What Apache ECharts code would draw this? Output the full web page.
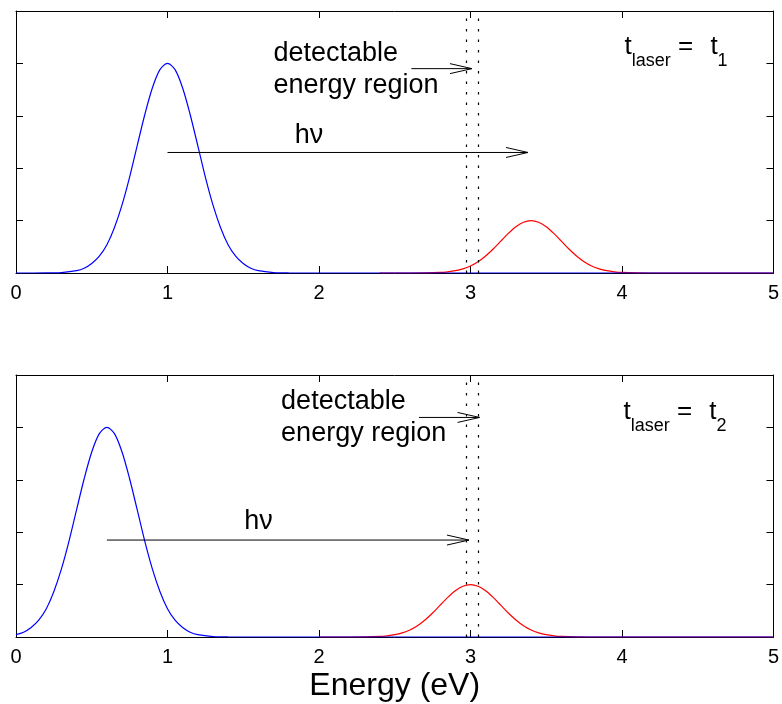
<!DOCTYPE html>
<html>
<head>
<meta charset="utf-8">
<script src="https://cdn.jsdelivr.net/npm/echarts@6/dist/echarts.min.js"></script>
<style>
  html, body { margin: 0; padding: 0; background: #fff; }
  #chart { width: 782px; height: 704px; }
</style>
</head>
<body>
<div id="chart"></div>
<script>
// Energy axis tick labels (eV)
const energyTickLabels = ['0', '1', '2', '3', '4', '5'];

// Electron distribution (blue) and photoemitted signal (red), [energy eV, intensity a.u.]
// Panel 1: t_laser = t1
const electronsT1 = [
  [0, 0], [0.2, 0.001], [0.3, 0.009], [0.4, 0.044], [0.45, 0.09], [0.5, 0.18],
  [0.55, 0.32], [0.6, 0.54], [0.65, 0.87], [0.7, 1.30], [0.75, 1.83], [0.8, 2.43],
  [0.85, 3.02], [0.9, 3.53], [0.95, 3.88], [1.0, 4.00], [1.05, 3.88], [1.1, 3.53],
  [1.15, 3.02], [1.2, 2.43], [1.25, 1.83], [1.3, 1.30], [1.35, 0.87], [1.4, 0.54],
  [1.45, 0.32], [1.5, 0.18], [1.55, 0.09], [1.6, 0.044], [1.7, 0.009], [1.8, 0.001],
  [2.0, 0], [3.0, 0], [4.0, 0], [5.0, 0]
];
const signalT1 = [
  [2.4, 0], [2.6, 0.0003], [2.7, 0.002], [2.8, 0.011], [2.85, 0.023], [2.9, 0.044],
  [2.95, 0.080], [3.0, 0.135], [3.05, 0.216], [3.1, 0.325], [3.15, 0.458], [3.2, 0.607],
  [3.25, 0.755], [3.3, 0.883], [3.35, 0.969], [3.4, 1.0], [3.45, 0.969], [3.5, 0.883],
  [3.55, 0.755], [3.6, 0.607], [3.65, 0.458], [3.7, 0.325], [3.75, 0.216], [3.8, 0.135],
  [3.85, 0.080], [3.9, 0.044], [3.95, 0.023], [4.0, 0.011], [4.1, 0.002], [4.2, 0.0003],
  [4.4, 0], [5.0, 0]
];
// Panel 2: t_laser = t2
const electronsT2 = [
  [0, 0.044], [0.05, 0.09], [0.1, 0.18], [0.15, 0.32], [0.2, 0.54], [0.25, 0.87],
  [0.3, 1.30], [0.35, 1.83], [0.4, 2.43], [0.45, 3.02], [0.5, 3.53], [0.55, 3.88],
  [0.6, 4.00], [0.65, 3.88], [0.7, 3.53], [0.75, 3.02], [0.8, 2.43], [0.85, 1.83],
  [0.9, 1.30], [0.95, 0.87], [1.0, 0.54], [1.05, 0.32], [1.1, 0.18], [1.15, 0.09],
  [1.2, 0.044], [1.3, 0.009], [1.4, 0.001], [1.6, 0], [2.0, 0], [3.0, 0], [4.0, 0], [5.0, 0]
];
const signalT2 = [
  [2.0, 0], [2.2, 0.0003], [2.3, 0.002], [2.4, 0.011], [2.45, 0.023], [2.5, 0.044],
  [2.55, 0.080], [2.6, 0.135], [2.65, 0.216], [2.7, 0.325], [2.75, 0.458], [2.8, 0.607],
  [2.85, 0.755], [2.9, 0.883], [2.95, 0.969], [3.0, 1.0], [3.05, 0.969], [3.1, 0.883],
  [3.15, 0.755], [3.2, 0.607], [3.25, 0.458], [3.3, 0.325], [3.35, 0.216], [3.4, 0.135],
  [3.45, 0.080], [3.5, 0.044], [3.55, 0.023], [3.6, 0.011], [3.7, 0.002], [3.8, 0.0003],
  [4.0, 0], [5.0, 0]
];

// Detection window edges (eV)
const detectWindow = [2.97, 3.05];

// Arrows [x0, y0, x1, y1] in data units
const arrowsT1 = [[1.0, 2.30, 3.38, 2.30], [2.61, 3.90, 3.01, 3.90]];
const arrowsT2 = [[0.6, 1.85, 2.99, 1.85], [2.66, 4.19, 3.06, 4.19]];

// Text annotations [x, y, kind]
const labelsT1 = [[1.70, 3.89, 'region'], [1.84, 2.63, 'hv'], [4.017, 4.32, 'time']];
const labelsT2 = [[1.75, 4.18, 'region'], [1.507, 2.21, 'hv'], [4.01, 4.30, 'time']];
const laserTimes = ['1', '2'];

const FONT = '"Liberation Sans", Arial, Helvetica, sans-serif';

function xAxes(gridIndex, showLabels) {
  const base = {
    type: 'value', gridIndex, min: 0, max: 5, interval: 1,
    axisLine: { show: true, onZero: false, lineStyle: { color: '#000', width: 1 } },
    axisTick: { show: true, inside: true, length: 7, lineStyle: { color: '#000', width: 1 } },
    splitLine: { show: false }
  };
  return [
    Object.assign({}, base, {
      position: 'bottom',
      axisLabel: {
        show: showLabels, color: '#000', fontSize: 20, fontFamily: FONT, margin: 10,
        formatter: v => energyTickLabels[Math.round(v)]
      },
      name: gridIndex === 1 ? 'Energy (eV)' : '',
      nameLocation: 'middle', nameGap: 33,
      nameTextStyle: { color: '#000', fontSize: 32, fontFamily: FONT }
    }),
    Object.assign({}, base, { position: 'top', axisLabel: { show: false } })
  ];
}
function yAxes(gridIndex) {
  const base = {
    type: 'value', gridIndex, min: 0, max: 5, interval: 1,
    axisLine: { show: true, onZero: false, lineStyle: { color: '#000', width: 1 } },
    axisTick: { show: true, inside: true, length: 7, lineStyle: { color: '#000', width: 1 } },
    axisLabel: { show: false },
    splitLine: { show: false }
  };
  return [
    Object.assign({}, base, { position: 'left' }),
    Object.assign({}, base, { position: 'right' })
  ];
}

function curve(data, color, xi, yi, z) {
  return {
    type: 'line', data, xAxisIndex: xi, yAxisIndex: yi,
    showSymbol: false, smooth: 0.3, z,
    lineStyle: { color, width: 1.2 }, silent: true, animation: false
  };
}

function windowLines(xi, yi) {
  return {
    type: 'line', data: [], xAxisIndex: xi, yAxisIndex: yi, silent: true, animation: false,
    markLine: {
      silent: true, symbol: ['none', 'none'], animation: false,
      label: { show: false },
      lineStyle: { color: '#000', width: 1.2, type: [2.5, 8] },
      data: detectWindow.map(v => ({ xAxis: v }))
    }
  };
}

function arrowSeries(data, xi, yi) {
  return {
    type: 'custom', data, xAxisIndex: xi, yAxisIndex: yi, silent: true, animation: false, z: 5,
    clip: false,
    renderItem: (params, api) => {
      const p0 = api.coord([api.value(0), api.value(1)]);
      const p1 = api.coord([api.value(2), api.value(3)]);
      const dir = Math.atan2(p1[1] - p0[1], p1[0] - p0[0]);
      const L = 22, W = 5;
      const bx = p1[0] - L * Math.cos(dir), by = p1[1] - L * Math.sin(dir);
      const nx = -Math.sin(dir) * W, ny = Math.cos(dir) * W;
      return {
        type: 'group',
        children: [
          { type: 'line', shape: { x1: p0[0], y1: p0[1], x2: p1[0], y2: p1[1] },
            style: { stroke: '#000', lineWidth: 1 } },
          { type: 'polyline', shape: { points: [[bx + nx, by + ny], [p1[0], p1[1]], [bx - nx, by - ny]] },
            style: { stroke: '#000', fill: null, lineWidth: 1 } }
        ]
      };
    }
  };
}

function labelSeries(data, panel, xi, yi) {
  return {
    type: 'custom', data: data.map(d => [d[0], d[1]]), xAxisIndex: xi, yAxisIndex: yi,
    silent: true, animation: false, z: 6, clip: false,
    renderItem: (params, api) => {
      const p = api.coord([api.value(0), api.value(1)]);
      const kind = data[params.dataIndex][2];
      let style;
      if (kind === 'region') {
        style = { text: 'detectable\nenergy region', font: '27px ' + FONT, lineHeight: 32 };
      } else if (kind === 'hv') {
        style = { text: 'h\u03bd', font: '27px ' + FONT };
      } else {
        style = {
          text: '{m|t}{s|laser}{m| = }{m2|t}{s|' + laserTimes[panel] + '}',
          rich: {
            m: { fontSize: 26, fontFamily: FONT, lineHeight: 46, fill: '#000' },
            m2: { fontSize: 26, fontFamily: FONT, lineHeight: 46, padding: [0, 0, 0, 10], fill: '#000' },
            s: { fontSize: 18, fontFamily: FONT, lineHeight: 18, verticalAlign: 'bottom', fill: '#000' }
          }
        };
      }
      Object.assign(style, {
        x: p[0], y: p[1], fill: '#000',
        align: 'left', verticalAlign: 'middle',
        textAlign: 'left', textVerticalAlign: 'middle'
      });
      return { type: 'text', style };
    }
  };
}

const chart = echarts.init(document.getElementById('chart'), null, { renderer: 'canvas' });
chart.setOption({
  animation: false,
  backgroundColor: '#fff',
  grid: [
    { left: 16, top: 11, width: 760, height: 262 },
    { left: 16, top: 375, width: 760, height: 262 }
  ],
  xAxis: [...xAxes(0, true), ...xAxes(1, true)],
  yAxis: [...yAxes(0), ...yAxes(1)],
  series: [
    windowLines(0, 0),
    curve(signalT1, '#ff0000', 0, 0, 3),
    curve(electronsT1, '#0000ff', 0, 0, 4),
    arrowSeries(arrowsT1, 0, 0),
    labelSeries(labelsT1, 0, 0, 0),

    windowLines(2, 2),
    curve(signalT2, '#ff0000', 2, 2, 3),
    curve(electronsT2, '#0000ff', 2, 2, 4),
    arrowSeries(arrowsT2, 2, 2),
    labelSeries(labelsT2, 1, 2, 2)
  ]
});
</script>
</body>
</html>
